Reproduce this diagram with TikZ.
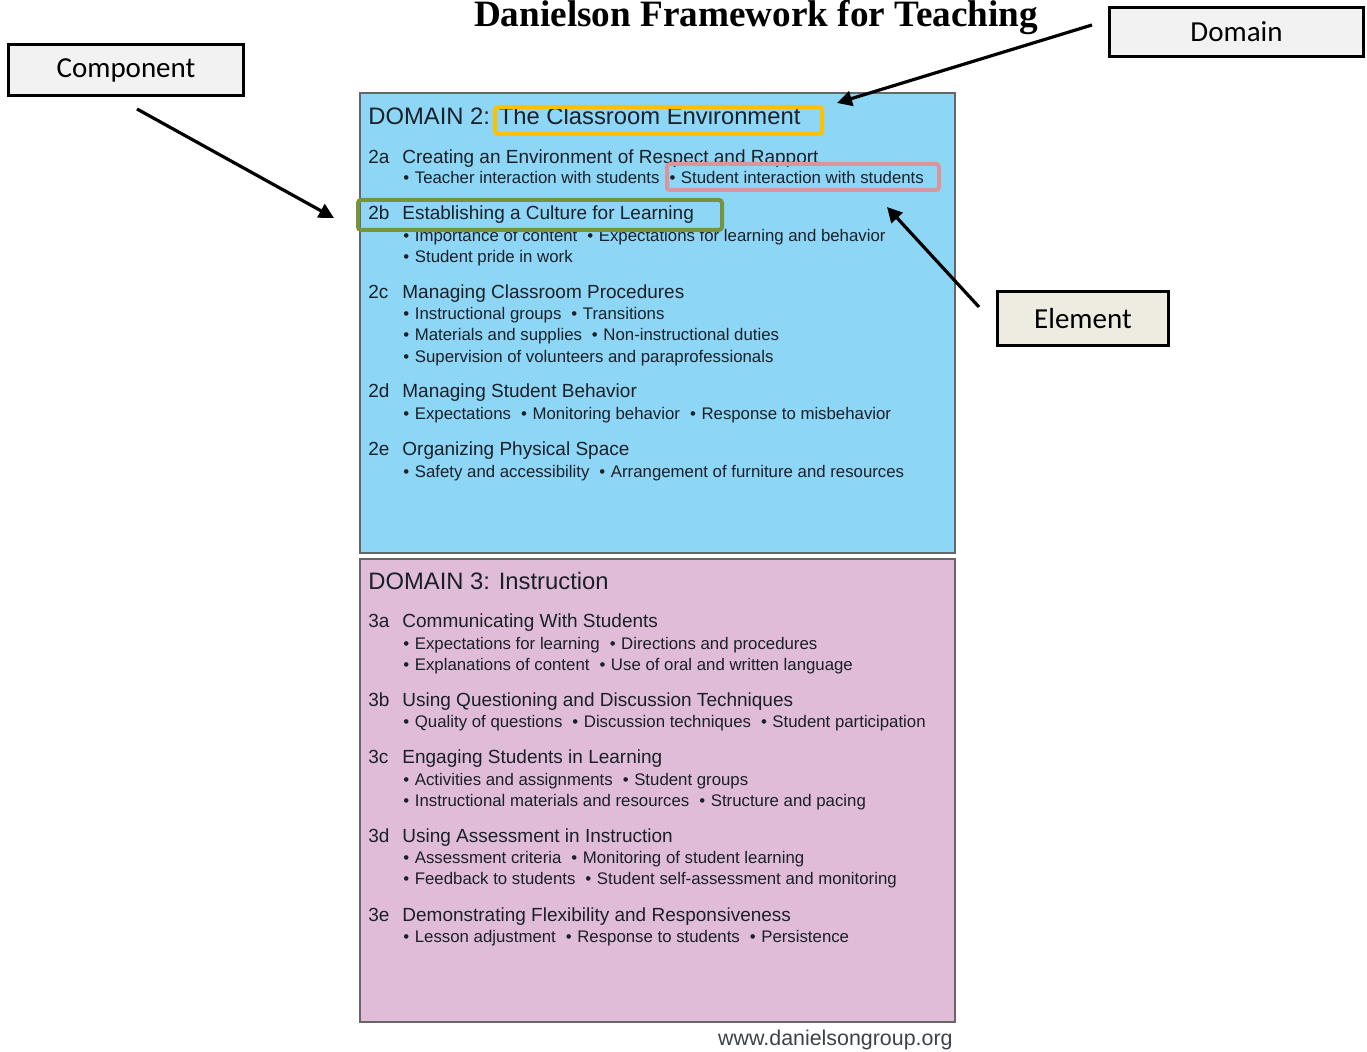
\documentclass[tikz,border=0pt]{standalone}
\usepackage{fontspec}
\setmainfont{Liberation Sans}
\newfontfamily\titlefont{Liberation Serif}
\newfontfamily\tagfont{Carlito}
\usetikzlibrary{arrows.meta,calc}

\definecolor{envblue}{RGB}{141,214,246}
\definecolor{instpink}{RGB}{224,188,216}
\definecolor{ink}{RGB}{26,32,40}
\definecolor{hlorange}{RGB}{255,192,0}
\definecolor{hlrose}{RGB}{216,150,154}
\definecolor{hlgreen}{RGB}{119,147,60}
\definecolor{tagfill}{RGB}{242,242,242}
\definecolor{tagcream}{RGB}{238,236,225}

% one element: bullet, then the text
\newcommand{\itm}{\textbullet\hspace{2.8pt}}
\newcommand{\gap}{\hspace{5pt}}

\begin{document}
\begin{tikzpicture}[x=0.5pt,y=-0.5pt]
  \useasboundingbox (0,0) rectangle (1367,1052);
  \tikzset{
    tag/.style={draw=black,line width=1.5pt,fill=tagfill,inner sep=0pt,
                font=\tagfont\fontsize{14.5}{17}\selectfont},
    pointer/.style={-{Triangle[length=7.5pt,width=7.5pt]},line width=1.6pt},
    hl/.style={draw=#1,line width=2pt,inner sep=0pt,rounded corners=1.5pt},
    panel/.style={draw=black!60,line width=1pt},
    dom/.style={anchor=base west,inner sep=0pt,text=ink,font=\fontsize{11.9}{14}\selectfont},
    comp/.style={anchor=base west,inner sep=0pt,text=ink,font=\fontsize{9.5}{11}\selectfont},
    elem/.style={anchor=base west,inner sep=0pt,text=ink,font=\fontsize{8.4}{10}\selectfont}
  }

  % title
  \node[anchor=base,inner sep=0pt,font=\titlefont\bfseries\fontsize{18.6}{20}\selectfont]
    (title) at (756,27) {Danielson Framework for Teaching};

  % the two domain panels
  \draw[panel,fill=envblue] (360,93) rectangle (955,553);
  \draw[panel,fill=instpink] (360,559) rectangle (955,1022);

  \node[dom] (d2) at (368,125) {DOMAIN 2: The Classroom Environment};
  \node[dom] (d3) at (368,590) {DOMAIN 3: Instruction};

  % components
  \foreach \id/\y/\txt in {
      2a/164/{Creating an Environment of Respect and Rapport},
      2b/220/{Establishing a Culture for Learning},
      2c/299/{Managing Classroom Procedures},
      2d/398/{Managing Student Behavior},
      2e/456/{Organizing Physical Space},
      3a/628/{Communicating With Students},
      3b/707/{Using Questioning and Discussion Techniques},
      3c/764/{Engaging Students in Learning},
      3d/843/{Using Assessment in Instruction},
      3e/922/{Demonstrating Flexibility and Responsiveness}}{
    \node[comp] (n\id) at (368,\y) {\id};
    \node[comp] (c\id) at (402,\y) {\txt};
  }

  % elements
  \foreach \y/\txt [count=\i] in {
      184/{\itm Teacher interaction with students\gap\itm Student interaction with students},
      242/{\itm Importance of content\gap\itm Expectations for learning and behavior},
      263/{\itm Student pride in work},
      320/{\itm Instructional groups\gap\itm Transitions},
      341/{\itm Materials and supplies\gap\itm Non-instructional duties},
      363/{\itm Supervision of volunteers and paraprofessionals},
      420/{\itm Expectations\gap\itm Monitoring behavior\gap\itm Response to misbehavior},
      478/{\itm Safety and accessibility\gap\itm Arrangement of furniture and resources},
      650/{\itm Expectations for learning\gap\itm Directions and procedures},
      671/{\itm Explanations of content\gap\itm Use of oral and written language},
      728/{\itm Quality of questions\gap\itm Discussion techniques\gap\itm Student participation},
      786/{\itm Activities and assignments\gap\itm Student groups},
      807/{\itm Instructional materials and resources\gap\itm Structure and pacing},
      864/{\itm Assessment criteria\gap\itm Monitoring of student learning},
      885/{\itm Feedback to students\gap\itm Student self-assessment and monitoring},
      943/{\itm Lesson adjustment\gap\itm Response to students\gap\itm Persistence}}
    \node[elem] (e\i) at (403,\y) {\txt};

  \node[anchor=base east,inner sep=0pt,text=ink!85,font=\fontsize{10.7}{12}\selectfont]
    (web) at (953,1046) {www.danielsongroup.org};

  % highlight frames
  \node[hl=hlorange,minimum width=163.5pt,minimum height=13.5pt] (dname) at (658.5,120.5) {};
  \node[hl=hlrose,minimum width=136pt,minimum height=13pt] (elt) at (803,177) {};
  \node[hl=hlgreen,minimum width=182pt,minimum height=15pt] (cul) at (540,215) {};

  % call-out labels
  \node[tag,minimum width=117.5pt,minimum height=25.5pt] (comp) at (126,70) {Component};
  \node[tag,minimum width=127pt,minimum height=24.5pt] (domain) at (1236.5,32) {Domain};
  \node[tag,fill=tagcream,minimum width=85.5pt,minimum height=27pt] (element) at (1083,318.5) {Element};

  \draw[pointer] ($(comp.south)+(11,12)$) -- ($(cul.west)+(-22,3)$);
  \draw[pointer] ($(domain.west)+(-16,-7)$) -- ($(dname.east)+(13,-17.5)$);
  \draw[pointer] ($(element.west)+(-17,-11.5)$) -- ($(elt.south east)+(-54,15)$);
\end{tikzpicture}
\end{document}
